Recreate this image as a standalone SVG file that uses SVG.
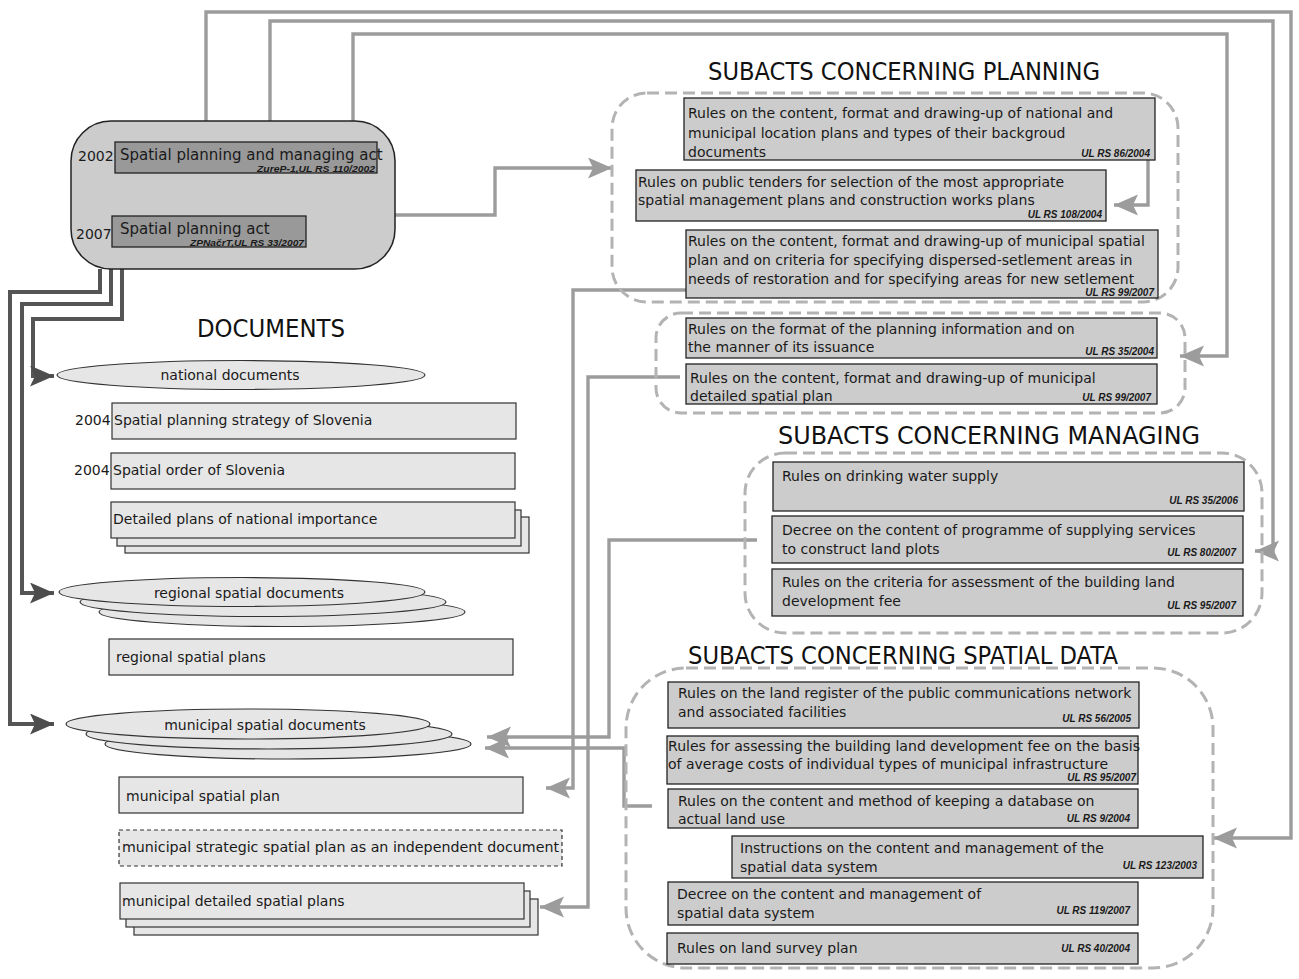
<svg xmlns="http://www.w3.org/2000/svg" width="1299" height="979" viewBox="0 0 1299 979">
  <style>
    .t { font-family: "DejaVu Sans", sans-serif; font-size: 14px; fill: #1a1a1a; }
    .main { font-family: "DejaVu Sans", sans-serif; font-size: 15px; fill: #1a1a1a; }
    .yr { font-family: "DejaVu Sans", sans-serif; font-size: 14px; fill: #1a1a1a; }
    .ref { font-family: "Liberation Sans", Arial, sans-serif; font-size: 10px; font-weight: bold; font-style: italic; fill: #1a1a1a; text-anchor: end; }
    .sub { font-family: "Liberation Sans", Arial, sans-serif; font-size: 9.5px; font-weight: bold; font-style: italic; fill: #1a1a1a; }
    .title { font-family: "DejaVu Sans", sans-serif; font-size: 25px; fill: #111; }
    .act { fill: #cccccc; stroke: #222; stroke-width: 1.3; }
    .doc { fill: #e6e6e6; stroke: #333; stroke-width: 1.2; }
    .law { fill: #999999; stroke: #222; stroke-width: 1.3; }
    .grp { fill: none; stroke: #b3b3b3; stroke-width: 3; stroke-dasharray: 12 6; }
    .cg { fill: none; stroke: #9c9c9c; stroke-width: 3.4; marker-end: url(#ag); }
    .cd { fill: none; stroke: #555; stroke-width: 4; marker-end: url(#ad); }
  </style>
  <defs>
    <marker id="ag" markerWidth="26" markerHeight="22" refX="24" refY="10.5" orient="auto" markerUnits="userSpaceOnUse">
      <path d="M0,0 L24,10.5 L0,21 L5,10.5 Z" fill="#9c9c9c"/>
    </marker>
    <marker id="ad" markerWidth="26" markerHeight="22" refX="24" refY="10.5" orient="auto" markerUnits="userSpaceOnUse">
      <path d="M0,0 L24,10.5 L0,21 L5,10.5 Z" fill="#4d4d4d"/>
    </marker>
  </defs>
  <rect width="1299" height="979" fill="#ffffff"/>

  <!-- connectors -->
  <g id="connectors">
    <path class="cg" d="M206,121 V12 H1291 V838 H1213"/>
    <path class="cg" d="M270,127 V21 H1273 V551 H1255"/>
    <path class="cg" d="M353,142 V34 H1227 V356 H1180"/>
    <path class="cg" d="M383,215 H495 V168 H612"/>
    <path class="cg" d="M1148,160 V205 H1114"/>
    <path class="cg" d="M687,290 H573 V788 H546"/>
    <path class="cg" d="M680,377 H588 V907 H540"/>
    <path class="cg" d="M757,540 H609 V737 H487"/>
    <path class="cg" d="M652,806 H624 V748 H485"/>
    <path class="cd" d="M100,269 V292 H10 V724 H54"/>
    <path class="cd" d="M111,269 V304 H22 V593 H54"/>
    <path class="cd" d="M122,269 V319 H33 V376 H54"/>
  </g>

  <!-- acts -->
  <g id="acts">
    <rect x="71" y="121" width="324" height="148" rx="40" ry="40" fill="#cccccc" stroke="#222" stroke-width="1.5"/>
    <rect class="law" x="115" y="142" width="262" height="31"/>
    <text class="yr" x="78" y="161">2002</text>
    <text class="main" x="120" y="160">Spatial planning and managing act</text>
    <text class="sub" x="257" y="171.5" textLength="118" lengthAdjust="spacingAndGlyphs">ZureP-1,UL RS 110/2002</text>
    <rect class="law" x="112" y="216" width="194" height="31"/>
    <text class="yr" x="76" y="239">2007</text>
    <text class="main" x="120" y="234">Spatial planning act</text>
    <text class="sub" x="190" y="245.5" textLength="114" lengthAdjust="spacingAndGlyphs">ZPNačrT,UL RS 33/2007</text>
  </g>

  <!-- documents -->
  <g id="documents">
    <text class="title" x="197" y="337" textLength="148" lengthAdjust="spacingAndGlyphs">DOCUMENTS</text>
  </g>
  <g id="national-documents">
    <ellipse class="doc" cx="241" cy="375" rx="184" ry="14.5"/>
    <text class="t" x="230" y="380" text-anchor="middle">national documents</text>
  </g>
  <g id="strategy">
    <rect class="doc" x="112" y="403" width="404" height="36"/>
    <text class="yr" x="75" y="425">2004</text>
    <text class="t" x="114" y="425">Spatial planning strategy of Slovenia</text>
  </g>
  <g id="order">
    <rect class="doc" x="111" y="453" width="404" height="36"/>
    <text class="yr" x="74" y="475">2004</text>
    <text class="t" x="113" y="475">Spatial order of Slovenia</text>
  </g>
  <g id="national-detailed">
    <rect class="doc" x="125" y="517" width="404" height="36"/>
    <rect class="doc" x="117" y="510" width="404" height="36"/>
    <rect class="doc" x="111" y="502" width="404" height="36"/>
    <text class="t" x="113" y="524">Detailed plans of national importance</text>
  </g>
  <g id="regional-documents">
    <ellipse class="doc" cx="282" cy="612" rx="183" ry="14.5"/>
    <ellipse class="doc" cx="263" cy="602" rx="183" ry="14.5"/>
    <ellipse class="doc" cx="242" cy="592" rx="183" ry="14.5"/>
    <text class="t" x="249" y="598" text-anchor="middle">regional spatial documents</text>
  </g>
  <g id="regional-plans">
    <rect class="doc" x="109" y="639" width="404" height="36"/>
    <text class="t" x="116" y="662">regional spatial plans</text>
  </g>
  <g id="municipal-documents">
    <ellipse class="doc" cx="288" cy="744" rx="183" ry="15"/>
    <ellipse class="doc" cx="269" cy="734" rx="183" ry="15"/>
    <ellipse class="doc" cx="248" cy="724" rx="182" ry="15"/>
    <text class="t" x="265" y="730" text-anchor="middle">municipal spatial documents</text>
  </g>
  <g id="municipal-plan">
    <rect class="doc" x="119" y="777" width="404" height="36"/>
    <text class="t" x="126" y="801">municipal spatial plan</text>
  </g>
  <g id="municipal-strategic">
    <rect class="doc" x="119" y="830" width="443" height="36" stroke-dasharray="4 3"/>
    <text class="t" x="122" y="852" textLength="437" lengthAdjust="spacingAndGlyphs">municipal strategic spatial plan as an independent document</text>
  </g>
  <g id="municipal-detailed">
    <rect class="doc" x="134" y="899" width="404" height="36"/>
    <rect class="doc" x="126" y="891" width="404" height="36"/>
    <rect class="doc" x="120" y="883" width="404" height="36"/>
    <text class="t" x="122" y="906">municipal detailed spatial plans</text>
  </g>

  <!-- subacts concerning planning -->
  <g id="planning">
    <text class="title" x="708" y="80" textLength="392" lengthAdjust="spacingAndGlyphs">SUBACTS CONCERNING PLANNING</text>
    <rect class="grp" x="612" y="93" width="566" height="209" rx="35" ry="35"/>
  </g>
  <g id="p-location-plans">
    <rect class="act" x="684" y="98" width="471" height="62"/>
    <text class="t" x="688" y="118">Rules on the content, format and drawing-up of national and</text>
    <text class="t" x="688" y="138">municipal location plans and types of their backgroud</text>
    <text class="t" x="688" y="157">documents</text>
    <text class="ref" x="1150" y="157">UL RS 86/2004</text>
  </g>
  <g id="p-public-tenders">
    <rect class="act" x="636" y="170" width="470" height="51"/>
    <text class="t" x="638" y="187">Rules on public tenders for selection of the most appropriate</text>
    <text class="t" x="638" y="205">spatial management plans and construction works plans</text>
    <text class="ref" x="1102" y="218">UL RS 108/2004</text>
  </g>
  <g id="p-municipal-spatial">
    <rect class="act" x="686" y="230" width="472" height="68"/>
    <text class="t" x="688" y="246">Rules on the content, format and drawing-up of municipal spatial</text>
    <text class="t" x="688" y="265">plan and on criteria for specifying dispersed-setlement areas in</text>
    <text class="t" x="688" y="284">needs of restoration and for specifying areas for new setlement</text>
    <text class="ref" x="1154" y="296">UL RS 99/2007</text>
  </g>
  <g id="planning-info">
    <rect class="grp" x="656" y="313" width="529" height="100" rx="25" ry="25"/>
  </g>
  <g id="i-planning-information">
    <rect class="act" x="686" y="318" width="471" height="40"/>
    <text class="t" x="688" y="334">Rules on the format of the planning information and on</text>
    <text class="t" x="688" y="352">the manner of its issuance</text>
    <text class="ref" x="1154" y="355">UL RS 35/2004</text>
  </g>
  <g id="i-detailed-plan">
    <rect class="act" x="686" y="364" width="471" height="40"/>
    <text class="t" x="690" y="383">Rules on the content, format and drawing-up of municipal</text>
    <text class="t" x="690" y="401">detailed spatial plan</text>
    <text class="ref" x="1151" y="401">UL RS 99/2007</text>
  </g>

  <!-- subacts concerning managing -->
  <g id="managing">
    <text class="title" x="778" y="444" textLength="422" lengthAdjust="spacingAndGlyphs">SUBACTS CONCERNING MANAGING</text>
    <rect class="grp" x="745" y="453" width="517" height="180" rx="40" ry="40"/>
  </g>
  <g id="m-drinking-water">
    <rect class="act" x="773" y="462" width="471" height="49"/>
    <text class="t" x="782" y="481">Rules on drinking water supply</text>
    <text class="ref" x="1238" y="504">UL RS 35/2006</text>
  </g>
  <g id="m-supplying-services">
    <rect class="act" x="772" y="516" width="471" height="47"/>
    <text class="t" x="782" y="535">Decree on the content of programme of supplying services</text>
    <text class="t" x="782" y="554">to construct land plots</text>
    <text class="ref" x="1236" y="556">UL RS 80/2007</text>
  </g>
  <g id="m-development-fee">
    <rect class="act" x="772" y="569" width="471" height="47"/>
    <text class="t" x="782" y="587">Rules on the criteria for assessment of the building land</text>
    <text class="t" x="782" y="606">development fee</text>
    <text class="ref" x="1236" y="609">UL RS 95/2007</text>
  </g>

  <!-- subacts concerning spatial data -->
  <g id="spatial-data">
    <text class="title" x="688" y="664" textLength="430" lengthAdjust="spacingAndGlyphs">SUBACTS CONCERNING SPATIAL DATA</text>
    <rect class="grp" x="626" y="668" width="587" height="300" rx="60" ry="60"/>
  </g>
  <g id="s-land-register">
    <rect class="act" x="668" y="682" width="471" height="46"/>
    <text class="t" x="678" y="698">Rules on the land register of the public communications network</text>
    <text class="t" x="678" y="717">and associated facilities</text>
    <text class="ref" x="1131" y="722">UL RS 56/2005</text>
  </g>
  <g id="s-average-costs">
    <rect class="act" x="667" y="736" width="471" height="48"/>
    <text class="t" x="668" y="751" textLength="472" lengthAdjust="spacingAndGlyphs">Rules for assessing the building land development fee on the basis</text>
    <text class="t" x="668" y="769">of average costs of individual types of municipal infrastructure</text>
    <text class="ref" x="1136" y="781">UL RS 95/2007</text>
  </g>
  <g id="s-land-use">
    <rect class="act" x="668" y="789" width="470" height="39"/>
    <text class="t" x="678" y="806">Rules on the content and method of keeping a database on</text>
    <text class="t" x="678" y="824">actual land use</text>
    <text class="ref" x="1130" y="822">UL RS 9/2004</text>
  </g>
  <g id="s-instructions">
    <rect class="act" x="732" y="836" width="471" height="42"/>
    <text class="t" x="740" y="853">Instructions on the content and management of the</text>
    <text class="t" x="740" y="872">spatial data system</text>
    <text class="ref" x="1197" y="869">UL RS 123/2003</text>
  </g>
  <g id="s-decree">
    <rect class="act" x="668" y="882" width="470" height="43"/>
    <text class="t" x="677" y="899">Decree on the content and management of</text>
    <text class="t" x="677" y="918">spatial data system</text>
    <text class="ref" x="1130" y="914">UL RS 119/2007</text>
  </g>
  <g id="s-survey-plan">
    <rect class="act" x="667" y="933" width="471" height="31"/>
    <text class="t" x="677" y="953">Rules on land survey plan</text>
    <text class="ref" x="1130" y="952">UL RS 40/2004</text>
  </g>
</svg>
